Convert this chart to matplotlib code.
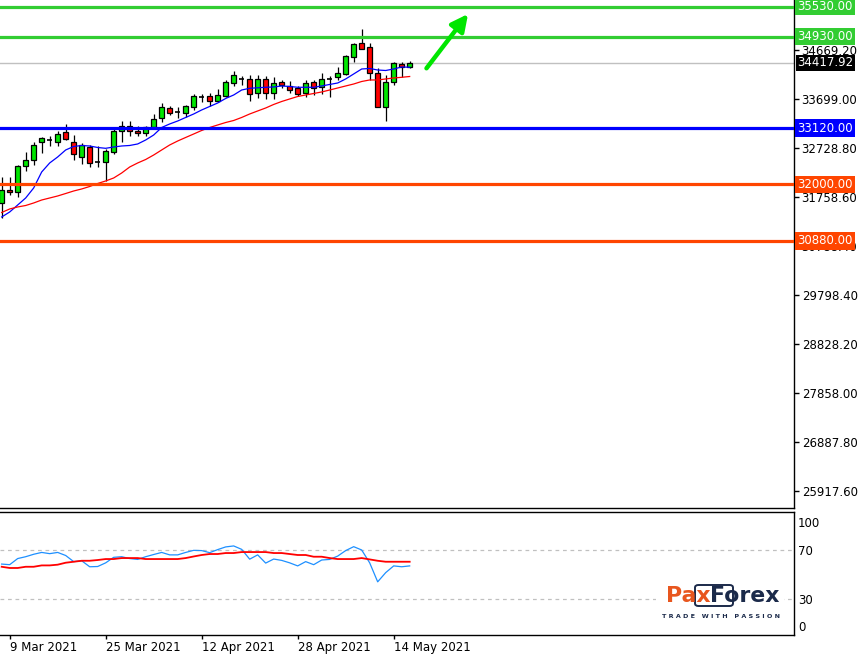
import matplotlib
matplotlib.use("Agg")
import matplotlib.pyplot as plt
import matplotlib.transforms as mtransforms
from matplotlib.patches import Rectangle, FancyBboxPatch

# ---------------- data ----------------
opens = [31633, 31891, 31841, 32357, 32486, 32843, 32873, 32843, 33032, 32843,
         32551, 32744, 32440, 32452, 32645, 33061, 33170, 33061, 33016, 33147,
         33319, 33512, 33444, 33424, 33543, 33736, 33750, 33663, 33756, 34014,
         34093, 34087, 33810, 34087, 33810, 34034, 33954, 33909, 33810, 34024,
         33928, 34093, 34127, 34198, 34524, 34802, 34722, 34206, 33543, 34028,
         34385, 34337]
highs = [32148, 32148, 32387, 32645, 32843, 32952, 32962, 33061, 33210, 32982,
         32823, 32774, 32754, 32714, 33101, 33260, 33250, 33155, 33170, 33399,
         33623, 33557, 33528, 33583, 33801, 33805, 33821, 33895, 34067, 34252,
         34153, 34173, 34163, 34153, 34133, 34073, 34059, 33954, 34073, 34067,
         34218, 34147, 34331, 34569, 34814, 35080, 34802, 34306, 34173, 34437,
         34431, 34451]
lows = [31335, 31791, 31752, 32268, 32387, 32625, 32754, 32754, 32883, 32486,
        32406, 32347, 32347, 32069, 32605, 32849, 32962, 32962, 32962, 33121,
        33246, 33379, 33319, 33339, 33478, 33643, 33557, 33627, 33736, 33954,
        33974, 33663, 33710, 33690, 33696, 33909, 33821, 33756, 33730, 33776,
        33805, 33742, 34073, 34173, 34437, 34683, 34073, 33532, 33266, 33974,
        34133, 34306]
closes = [31891, 31841, 32367, 32486, 32784, 32913, 32873, 32992, 32897, 32605,
          32774, 32436, 32440, 32664, 33061, 33160, 33061, 33016, 33141, 33294,
          33532, 33428, 33444, 33551, 33750, 33736, 33663, 33770, 34040, 34173,
          34093, 33790, 34087, 33810, 34008, 33968, 33875, 33786, 34008, 33909,
          34087, 34093, 34206, 34550, 34788, 34695, 34222, 33543, 34028, 34417,
          34337, 34417.92]

ma_fast = [31355, 31454, 31593, 31732, 31931, 32248, 32427, 32546, 32685, 32754,
           32774, 32764, 32734, 32718, 32744, 32764, 32774, 32804, 32883, 32982,
           33131, 33201, 33260, 33330, 33399, 33479, 33548, 33617, 33707, 33776,
           33875, 33909, 33919, 33929, 33935, 33955, 33945, 33929, 33929, 33929,
           33955, 33985, 34014, 34094, 34193, 34292, 34302, 34272, 34262, 34292,
           34332, 34326]
ma_slow = [31444, 31514, 31554, 31583, 31633, 31692, 31732, 31772, 31821, 31871,
           31911, 31960, 32020, 32070, 32129, 32228, 32347, 32427, 32496, 32585,
           32685, 32784, 32863, 32933, 33002, 33072, 33131, 33181, 33230, 33270,
           33330, 33399, 33459, 33518, 33588, 33647, 33697, 33746, 33776, 33806,
           33836, 33875, 33915, 33955, 33994, 34044, 34074, 34074, 34094, 34114,
           34127, 34143]

rsi = [58.5, 58, 63, 64.5, 66.5, 68, 67, 68, 65.5, 60.5,
       61.2, 56.3, 56.5, 59.5, 64, 64.5, 63, 62.3, 64.5, 66.3,
       68, 66, 66, 68, 69.7, 69.5, 67.8, 70.3, 72.5, 73.3,
       70.5, 62.5, 66, 59.3, 62.6, 61.5, 59.5, 57, 60.5, 58,
       61.8, 62.3, 65, 69.5, 72.7, 70, 59.5, 44, 51.5, 57,
       56.3, 57]
rsi_signal = [56.3, 55.3, 55.3, 56.3, 56.3, 57.4, 57.4, 58, 59.6, 60.4,
              61.2, 61.2, 61.8, 62.6, 62.6, 63.4, 63.4, 63.4, 62.6, 62.6,
              62.6, 62.6, 62.6, 63.4, 64.7, 65.9, 66.7, 66.7, 67.5, 67.5,
              68.3, 68.3, 68.3, 68.3, 67.5, 67.5, 66.7, 65.9, 65.9, 64.5,
              64.5, 63.4, 62.6, 62.6, 62.6, 63.4, 62.3, 61.2, 60.4, 60.4,
              60.4, 60.4]

date_tick_idx = [1, 13, 25, 37, 49]
date_tick_labels = ["9 Mar 2021", "25 Mar 2021", "12 Apr 2021", "28 Apr 2021", "14 May 2021"]

price_ticks = [34669.20, 33699.00, 32728.80, 31758.60, 30788.40,
               29798.40, 28828.20, 27858.00, 26887.80, 25917.60]

levels = [35530.00, 34930.00, 33120.00, 32000.00, 30880.00]
level_colors = ["#32CD32", "#32CD32", "#0000FF", "#FF4500", "#FF4500"]
last_price = 34417.92

rsi_levels = [70, 30]

arrow_from = (53.1, 34306)
arrow_to = (58.3, 35384)

# ---------------- figure ----------------
W, H = 864, 655
fig = plt.figure(figsize=(W / 100, H / 100), dpi=100)
fig.patch.set_facecolor("white")
FS = 8.5

def ax_rect(x0, y0, x1, y1):
    return [x0 / W, 1 - y1 / H, (x1 - x0) / W, (y1 - y0) / H]

ax = fig.add_axes(ax_rect(0, 0, 794, 508))
axr = fig.add_axes(ax_rect(0, 512, 794, 635))

n = len(opens)
xs = list(range(n))
xlim = (-0.21, 99.04)

# candles
ax.vlines(xs, lows, highs, color="black", linewidth=0.9, zorder=2)
bull = "#00E600"
bear = "#FF0000"
for i in xs:
    o, c = opens[i], closes[i]
    if abs(c - o) < 1e-6:
        ax.hlines(o, i - 0.32, i + 0.32, color="black", linewidth=1.2, zorder=3)
    else:
        ax.bar(i, abs(c - o), bottom=min(o, c), width=0.62,
               color=bull if c > o else bear, edgecolor="black",
               linewidth=0.9, zorder=3)

ax.plot(xs, ma_fast, color="#0000FF", linewidth=0.9, zorder=4)
ax.plot(xs, ma_slow, color="#FF0000", linewidth=0.9, zorder=4)

ax.axhline(last_price, color="#C0C0C0", linewidth=1.0, zorder=1)
for lv, col in zip(levels, level_colors):
    ax.axhline(lv, color=col, linewidth=2.3, zorder=5)

ax.annotate("", xy=arrow_to, xytext=arrow_from,
            arrowprops=dict(arrowstyle="-|>,head_length=1.0,head_width=0.5",
                            color="#00E600", linewidth=3.2, shrinkA=0, shrinkB=0),
            zorder=6)

ax.set_xlim(*xlim)
ax.set_ylim(25580, 35661)
ax.set_xticks([])
ax.yaxis.tick_right()
ax.set_yticks(price_ticks)
ax.set_yticklabels([f"{v:.2f}" for v in price_ticks])
ax.tick_params(axis="y", direction="out", length=3.5, width=1, pad=2,
               labelsize=FS, colors="black")
for s in ["left", "top"]:
    ax.spines[s].set_visible(False)
for s in ["right", "bottom"]:
    ax.spines[s].set_color("black")
    ax.spines[s].set_linewidth(1.0)

trans = mtransforms.blended_transform_factory(ax.transAxes, ax.transData)
for lv, col in zip(levels, level_colors):
    ax.text(1.0045, lv, f"{lv:.2f}", transform=trans, ha="left", va="center",
            color="white", fontsize=FS, clip_on=False, zorder=10,
            bbox=dict(boxstyle="square,pad=0.18", fc=col, ec="none"))
ax.text(1.0045, last_price, f"{last_price:.2f}", transform=trans, ha="left",
        va="center", color="white", fontsize=FS, clip_on=False, zorder=10,
        bbox=dict(boxstyle="square,pad=0.12", fc="black", ec="none"))

# ---------------- indicator ----------------
axr.plot(xs, rsi, color="#1E90FF", linewidth=0.9, zorder=3)
axr.plot(xs, rsi_signal, color="#FF0000", linewidth=1.3, zorder=3)
for lv in rsi_levels:
    axr.axhline(lv, color="#C0C0C0", linewidth=0.9, linestyle=(0, (3, 3)), zorder=1)
axr.set_xlim(*xlim)
axr.set_ylim(0.6, 101)
axr.yaxis.tick_right()
axr.set_yticks(rsi_levels)
axr.set_yticklabels([str(v) for v in rsi_levels])
axr.tick_params(axis="y", direction="out", length=0, pad=3, labelsize=FS)
tr2 = mtransforms.blended_transform_factory(axr.transAxes, axr.transData)
axr.text(1.005, 91.5, "100", transform=tr2, ha="left", va="center", fontsize=FS, clip_on=False)
axr.text(1.005, 6.5, "0", transform=tr2, ha="left", va="center", fontsize=FS, clip_on=False)
axr.set_xticks(date_tick_idx)
axr.set_xticklabels(date_tick_labels, ha="left")
axr.tick_params(axis="x", direction="out", length=3, width=1, pad=1.5, labelsize=FS)
axr.spines["left"].set_visible(False)
for s in ["right", "bottom", "top"]:
    axr.spines[s].set_color("black")
    axr.spines[s].set_linewidth(1.0)

# logo
fig.patches.append(Rectangle((656 / W, 1 - 608 / H), 128 / W, 22 / H,
                             transform=fig.transFigure, fc="white", ec="none", zorder=5))
fig.patches.append(FancyBboxPatch((695 / W, 1 - 606 / H), 38 / W, 21 / H,
                                  boxstyle="round,pad=0,rounding_size=0.004",
                                  transform=fig.transFigure, fc="none",
                                  ec="#1B2A4A", linewidth=1.4, zorder=6))
fig.text(711 / W, 1 - 596 / H, "Pax", color="#E8561E", fontsize=15.8,
         fontweight="bold", ha="right", va="center", zorder=7)
fig.text(710 / W, 1 - 596 / H, "Forex", color="#1B2A4A", fontsize=15.8,
         fontweight="bold", ha="left", va="center", zorder=7)
fig.text(721 / W, 1 - 616 / H, " ".join("TRADE WITH PASSION"), color="#1B2A4A",
         fontsize=4.6, fontweight="bold", ha="center", va="center", zorder=7)

fig.savefig("out.png", dpi=100, facecolor="white")
